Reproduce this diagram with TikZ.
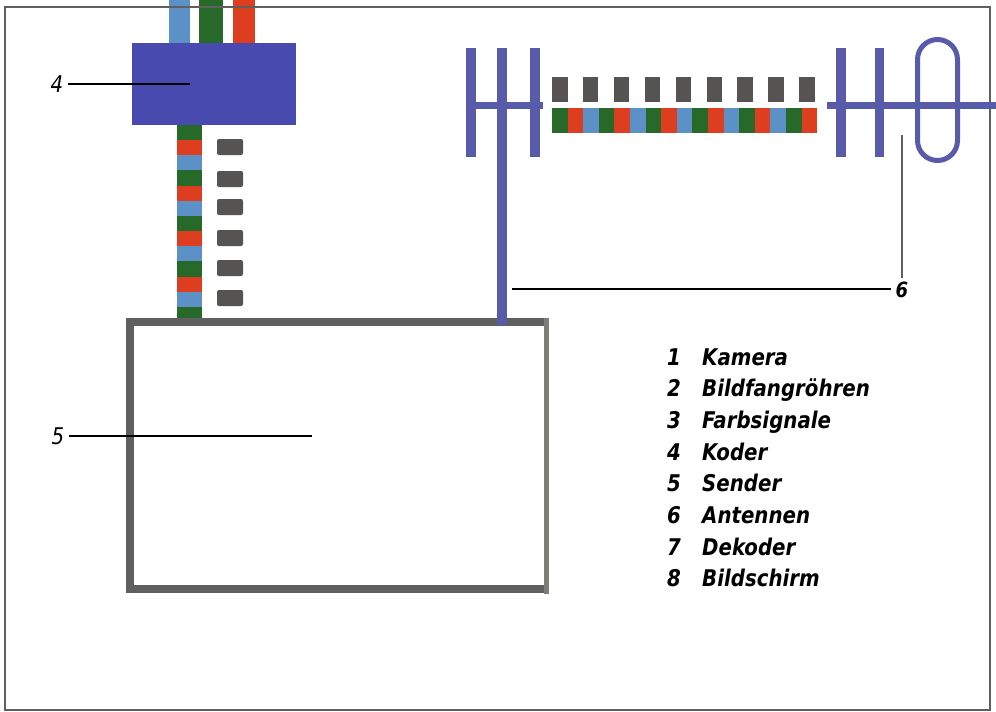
\documentclass[tikz,border=0pt]{standalone}
\usepackage{fontspec}
\newfontfamily\labfont{DejaVu Sans}[FakeStretch=0.86]
\definecolor{coderblue}{RGB}{72,74,176}
\definecolor{antblue}{RGB}{88,90,170}
\definecolor{kb}{RGB}{92,145,200}
\definecolor{kg}{RGB}{38,105,40}
\definecolor{kr}{RGB}{222,62,32}
\definecolor{sqgrey}{RGB}{85,84,82}
\definecolor{framegrey}{RGB}{95,95,95}
\definecolor{lightgrey}{RGB}{125,125,122}
\tikzset{
  sq/.style={fill=sqgrey, rounded corners=2pt},
  antbar/.style={fill=antblue},
  leader/.style={draw=black, line width=1.1pt},
  lbl/.style={font=\labfont\itshape\fontsize{23}{23}\selectfont, inner sep=1pt},
  lblb/.style={font=\labfont\bfseries\itshape\fontsize{21}{21}\selectfont, inner sep=1pt},
  legnum/.style={font=\labfont\bfseries\itshape\fontsize{23}{23}\selectfont, anchor=base west, inner sep=0pt},
  legtxt/.style={font=\labfont\bfseries\itshape\fontsize{23}{23}\selectfont, anchor=base west, inner sep=0pt}
}
\begin{document}
\begin{tikzpicture}[x=1pt,y=-1pt]
\useasboundingbox (0,0) rectangle (996,712);
\fill[white] (0,0) rectangle (996,712);

% camera signal bars into the coder
\fill[kb] (169,0) rectangle (190,44);
\fill[kg] (199,0) rectangle (223,44);
\fill[kr] (233,0) rectangle (255,44);

% coder (4)
\node[fill=coderblue, minimum width=164pt, minimum height=82pt, inner sep=0pt] (coder) at (214,84) {};

% striped colour signal
\foreach \c [count=\i from 0] in {kg,kr,kb,kg,kr,kb,kg,kr,kb,kg,kr,kb,kg}
  \fill[\c] (177,{125+\i*15.16}) rectangle (202,{125+(\i+1)*15.16});

% grey pulses (vertical)
\foreach \yy in {147,179,207,238,268,298}
  \fill[sq] (217,{\yy-8}) rectangle (243,{\yy+8});

% sender (5)
\coordinate (senderc) at (338,456);
\draw[framegrey, line width=8pt] (546,321.5) -- (130,321.5) -- (130,588.5) -- (546,588.5);
\draw[lightgrey, line width=5pt] (546,318) -- (546,594);

% transmitting antenna
\fill[antbar] (466,48) rectangle (476,157);
\fill[antbar] (497,48) rectangle (507,325);
\fill[antbar] (530,48) rectangle (540,157);
\fill[antbar] (476,102) rectangle (543,109);

% transmitted signal
\foreach \i in {0,...,8}
  \fill[sqgrey] ({552+\i*30.9},77) rectangle ({567.5+\i*30.9},102);
\foreach \c [count=\i from 0] in {kg,kr,kb,kg,kr,kb,kg,kr,kb,kg,kr,kb,kg,kr,kb,kg,kr}
  \fill[\c] ({552+\i*15.6},108) rectangle ({552+(\i+1)*15.6},133);

% receiving antenna
\fill[antbar] (836,48) rectangle (846,157);
\fill[antbar] (875,48) rectangle (884,157);
\draw[antblue, line width=5pt, rounded corners=20pt] (917.5,39.5) rectangle (957.5,160.5);

% labels and leaders
\node[lbl] (l4) at (57,84) {4};
\coordinate (l4e) at (190,84);
\draw[leader] (l4.east) ++(4,0) -- (l4e);
\node[lbl] (l5) at (58,436) {5};
\coordinate (l5e) at (312,436);
\draw[leader] (l5.east) ++(4,0) -- (l5e);
\node[lblb] (l6) at (902,290) {6};
\coordinate (l6h) at (512,289);
\coordinate (l6v) at (902,135);
\draw[leader] (l6.west) ++(-4,-1) -- (l6h);
\draw[leader, draw=framegrey] (l6.north) ++(0,-3) -- (l6v);

% legend
\foreach \n/\t [count=\k from 0] in {1/Kamera,2/Bildfangröhren,3/Farbsignale,4/Koder,5/Sender,6/Antennen,7/Dekoder,8/Bildschirm}{
  \node[legnum] (n\n) at (667,{365+\k*31.7}) {\n};
  \node[legtxt] (t\n) at (702,{365+\k*31.7}) {\t};
}

% frame
\draw[framegrey, line width=2pt] (5,7) -- (990,7) -- (990,710) -- (5,710) -- cycle;

% receiving antenna rod (over the frame)
\fill[antbar] (827,102) rectangle (996,109);
\end{tikzpicture}
\end{document}
